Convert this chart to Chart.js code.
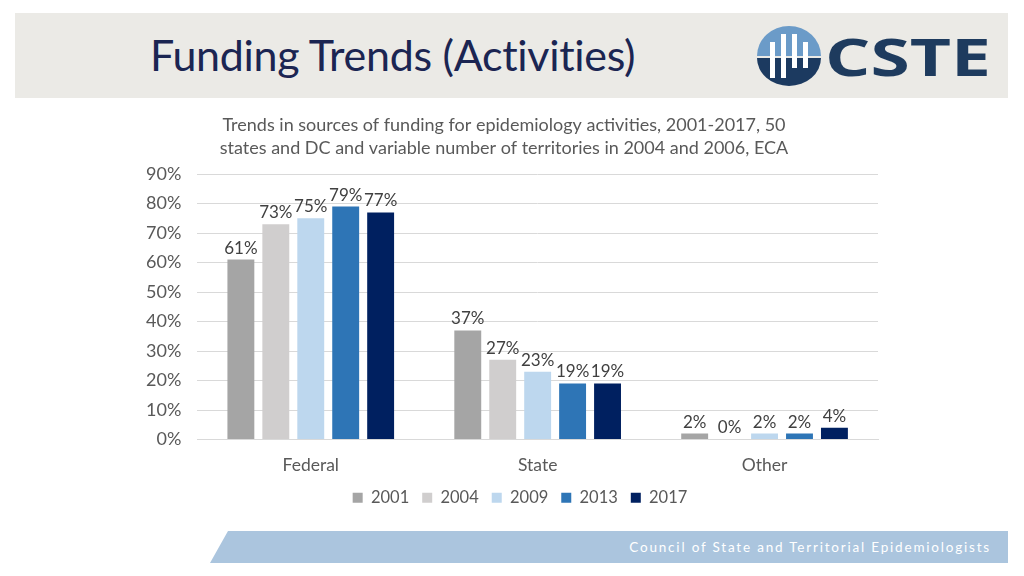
<!DOCTYPE html>
<html>
<head>
<meta charset="utf-8">
<script src="https://cdn.jsdelivr.net/npm/chart.js@4.4.1/dist/chart.umd.min.js"></script>
<style>
  body { margin: 0; width: 1024px; height: 576px; background: #fff; position: relative; overflow: hidden; font-family: Lato, "Open Sans", sans-serif; }
  #header { position: absolute; left: 15px; top: 13px; width: 993px; height: 85px; background: #ebeae6; }
  #title { position: absolute; left: 150px; top: 29px; font-size: 43px; color: #1b2552; font-family: Lato, sans-serif; letter-spacing: -0.3px; }
  #logo { position: absolute; left: 755px; top: 26px; }
  #footer { position: absolute; left: 0; top: 0; }
  #footer-text { position: absolute; right: 33px; top: 539px; color: #fff; font-size: 13.5px; letter-spacing: 1.8px; font-family: Lato, sans-serif; }
  #chart-box { position: absolute; left: 130px; top: 114px; width: 758px; height: 402px; }
</style>
</head>
<body>
<div id="header"></div>
<div id="title">Funding Trends (Activities)</div>
<svg id="logo" width="245" height="62" viewBox="0 0 245 62">
  <path d="M2 30 A32 30 0 0 1 66 30 Z" fill="#6b9bc8"/>
  <path d="M2 32 A32 28 0 0 0 66 32 Z" fill="#1c3a60"/>
  <rect x="15" y="16" width="5" height="36" fill="#fff"/>
  <rect x="26" y="8" width="5" height="44" fill="#fff"/>
  <rect x="37" y="8" width="5" height="34" fill="#fff"/>
  <rect x="48" y="16" width="5" height="26" fill="#fff"/>
  <text x="70" y="50" font-family="Open Sans, sans-serif" font-weight="700" font-size="52" fill="#1e3b5e" textLength="166" lengthAdjust="spacingAndGlyphs">CSTE</text>
</svg>
<svg id="footer" width="1024" height="576">
  <polygon points="228,531 1008,531 1008,563 210,563" fill="#abc5de"/>
</svg>
<div id="footer-text">Council of State and Territorial Epidemiologists</div>
<div id="chart-box"><canvas id="chart"></canvas></div>
<script>
const categories = ['Federal', 'State', 'Other'];
const years = ['2001', '2004', '2009', '2013', '2017'];
const values2001 = [61, 37, 2];
const values2004 = [73, 27, 0];
const values2009 = [75, 23, 2];
const values2013 = [79, 19, 2];
const values2017 = [77, 19, 4];
const yTicks = [0, 10, 20, 30, 40, 50, 60, 70, 80, 90];
const colors = ['#a5a5a5', '#d0cece', '#bdd7ee', '#2e75b6', '#002060'];

const seriesValues = [values2001, values2004, values2009, values2013, values2017];
const fontFamily = 'Lato, "Open Sans", sans-serif';

// draws the percentage above each bar
const barLabels = {
    id: 'barLabels',
    afterDatasetsDraw(chart) {
        const ctx = chart.ctx;
        ctx.save();
        ctx.font = '17px ' + fontFamily;
        ctx.fillStyle = '#404040';
        ctx.textAlign = 'center';
        ctx.textBaseline = 'bottom';
        chart.data.datasets.forEach((ds, i) => {
            chart.getDatasetMeta(i).data.forEach((bar, j) => {
                ctx.fillText(ds.data[j] + '%', bar.x, bar.y - 3);
            });
        });
        ctx.restore();
    }
};

// the legend sits a bit right of the canvas centre in the original
const legendShift = {
    id: 'legendShift',
    afterLayout(chart) {
        chart.legend.left += 16;
        chart.legend.right += 16;
    }
};

const ctx = document.getElementById('chart').getContext('2d');
new Chart(ctx, {
    type: 'bar',
    data: {
        labels: categories,
        datasets: years.map((y, i) => ({
            label: y,
            data: seriesValues[i],
            backgroundColor: colors[i],
            borderWidth: 0,
            categoryPercentage: 0.77,
            barPercentage: 0.77
        }))
    },
    options: {
        responsive: true,
        maintainAspectRatio: false,
        animation: false,
        layout: { padding: { left: 0, right: 10, top: 0, bottom: 0 } },
        plugins: {
            title: {
                display: true,
                text: ['Trends in sources of funding for epidemiology activities, 2001-2017, 50',
                       'states and DC and variable number of territories in 2004 and 2006, ECA'],
                color: '#595959',
                font: { size: 18, family: fontFamily, weight: 'normal', lineHeight: 1.28 },
                padding: { top: 0, bottom: 14 }
            },
            legend: {
                position: 'bottom',
                labels: {
                    color: '#595959',
                    font: { size: 16.5, family: fontFamily },
                    boxWidth: 10,
                    boxHeight: 10,
                    padding: 13
                }
            },
            tooltip: { enabled: false }
        },
        scales: {
            x: {
                grid: { display: false, drawTicks: false },
                border: { color: '#d9d9d9' },
                ticks: { color: '#595959', font: { size: 17.5, family: fontFamily }, padding: 15 },
                // pull the legend a little closer to the category labels
                afterFit: (scale) => { scale.height -= 14; }
            },
            y: {
                min: 0,
                max: 90,
                afterBuildTicks: (axis) => { axis.ticks = yTicks.map(v => ({ value: v })); },
                grid: { color: '#d9d9d9', drawTicks: false },
                border: { display: false },
                ticks: {
                    color: '#595959',
                    font: { size: 18, family: fontFamily },
                    padding: 16,
                    callback: (v) => v + '%'
                }
            }
        }
    },
    plugins: [barLabels, legendShift]
});
</script>
</body>
</html>
